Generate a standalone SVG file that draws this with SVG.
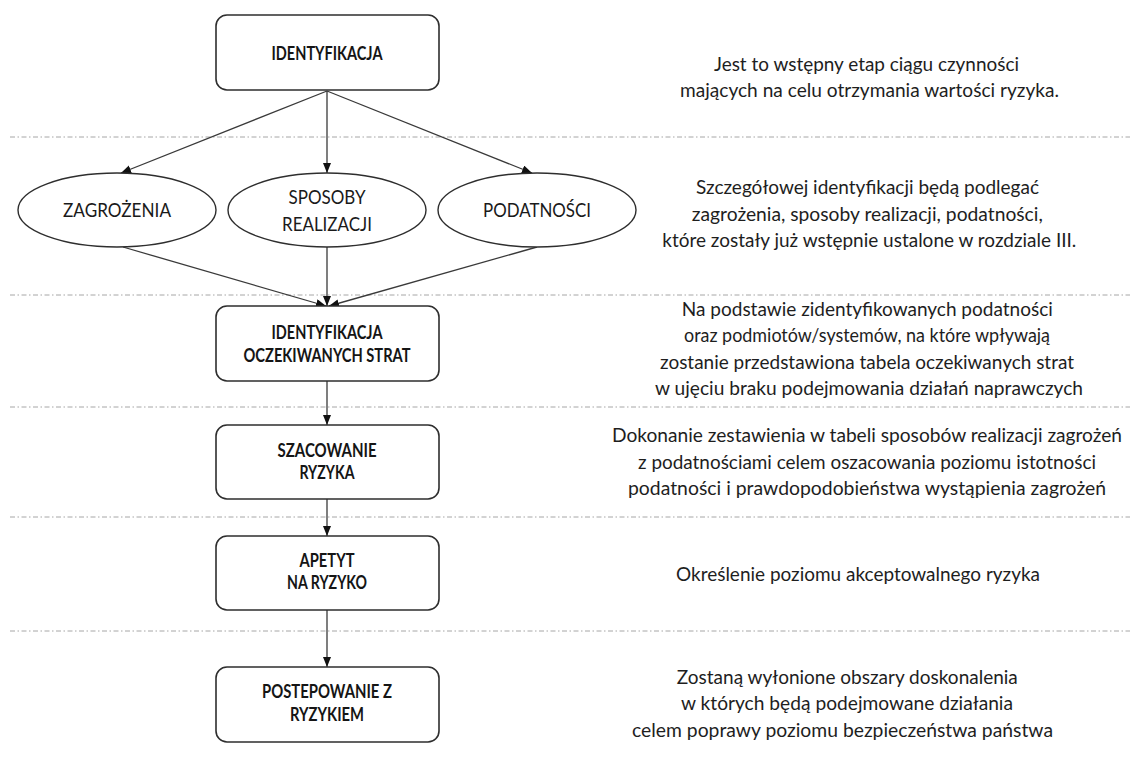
<svg xmlns="http://www.w3.org/2000/svg" width="1134" height="776" viewBox="0 0 1134 776">
  <style>
    .sep { stroke: #a6a6a6; stroke-width: 1; stroke-dasharray: 5 2.5 1.5 2.5; fill: none; }
    .box { fill: #ffffff; stroke: #2e2e2e; stroke-width: 1.6; }
    .ell { fill: #ffffff; stroke: #2e2e2e; stroke-width: 1.4; }
    .lbl { font-family: Lato, "Open Sans", "Liberation Sans", sans-serif; font-size: 19px; font-weight: 700; fill: #151515; text-anchor: middle; }
    .elbl { font-family: Lato, "Open Sans", "Liberation Sans", sans-serif; font-size: 20px; fill: #1a1a1a; text-anchor: middle; }
    .note { font-family: Lato, "Open Sans", "Liberation Sans", sans-serif; font-size: 19.5px; fill: #1e1e1e; text-anchor: middle; }
    .conn { stroke: #3a3a3a; stroke-width: 1.3; fill: none; marker-end: url(#arrow); }
  </style>
  <defs>
    <marker id="arrow" markerUnits="userSpaceOnUse" markerWidth="11" markerHeight="9" refX="10" refY="4" orient="auto">
      <path d="M0,0 L10,4 L0,8 Z" fill="#111111"/>
    </marker>
  </defs>

  <rect width="1134" height="776" fill="#ffffff"/>

  <!-- section separators -->
  <g id="separators">
    <line class="sep" x1="10" y1="137" x2="1130" y2="137"/>
    <line class="sep" x1="10" y1="295" x2="1130" y2="295"/>
    <line class="sep" x1="10" y1="407" x2="1130" y2="407"/>
    <line class="sep" x1="10" y1="517" x2="1130" y2="517"/>
    <line class="sep" x1="10" y1="631" x2="1130" y2="631"/>
  </g>

  <!-- connectors -->
  <g id="connectors">
    <line class="conn" x1="327" y1="91" x2="121" y2="173"/>
    <line class="conn" x1="327" y1="91" x2="327" y2="173"/>
    <line class="conn" x1="327" y1="91" x2="532" y2="173"/>
    <line class="conn" x1="123" y1="247" x2="326" y2="306"/>
    <line class="conn" x1="327" y1="247" x2="327" y2="306"/>
    <line class="conn" x1="537" y1="247" x2="329" y2="306"/>
    <line class="conn" x1="327" y1="381" x2="327" y2="425"/>
    <line class="conn" x1="327" y1="499" x2="327" y2="536"/>
    <line class="conn" x1="327" y1="610" x2="327" y2="667"/>
  </g>

  <!-- process steps -->
  <g id="identyfikacja">
    <rect class="box" x="216" y="15" width="223" height="75" rx="11"/>
    <text class="lbl" x="327" y="59.5" textLength="111" lengthAdjust="spacingAndGlyphs">IDENTYFIKACJA</text>
  </g>

  <g id="zagrozenia">
    <ellipse class="ell" cx="117" cy="210" rx="99" ry="37"/>
    <text class="elbl" x="117" y="217" textLength="108" lengthAdjust="spacingAndGlyphs">ZAGROŻENIA</text>
  </g>

  <g id="sposoby-realizacji">
    <ellipse class="ell" cx="327" cy="210" rx="99" ry="37"/>
    <text class="elbl" x="327" y="203.5" textLength="77" lengthAdjust="spacingAndGlyphs">SPOSOBY</text>
    <text class="elbl" x="327" y="230.7" textLength="90" lengthAdjust="spacingAndGlyphs">REALIZACJI</text>
  </g>

  <g id="podatnosci">
    <ellipse class="ell" cx="537" cy="210" rx="99" ry="37"/>
    <text class="elbl" x="537" y="217" textLength="108" lengthAdjust="spacingAndGlyphs">PODATNOŚCI</text>
  </g>

  <g id="identyfikacja-strat">
    <rect class="box" x="216" y="306" width="223" height="75" rx="11"/>
    <text class="lbl" x="327" y="339" textLength="111" lengthAdjust="spacingAndGlyphs">IDENTYFIKACJA</text>
    <text class="lbl" x="327" y="361.7" textLength="167" lengthAdjust="spacingAndGlyphs">OCZEKIWANYCH STRAT</text>
  </g>

  <g id="szacowanie-ryzyka">
    <rect class="box" x="216" y="425" width="223" height="74" rx="11"/>
    <text class="lbl" x="327" y="456.7" textLength="99" lengthAdjust="spacingAndGlyphs">SZACOWANIE</text>
    <text class="lbl" x="327" y="479.3" textLength="55" lengthAdjust="spacingAndGlyphs">RYZYKA</text>
  </g>

  <g id="apetyt-na-ryzyko">
    <rect class="box" x="216" y="536" width="223" height="74" rx="11"/>
    <text class="lbl" x="327" y="566.7" textLength="55" lengthAdjust="spacingAndGlyphs">APETYT</text>
    <text class="lbl" x="327" y="589" textLength="80" lengthAdjust="spacingAndGlyphs">NA RYZYKO</text>
  </g>

  <g id="postepowanie-z-ryzykiem">
    <rect class="box" x="216" y="667" width="223" height="75" rx="11"/>
    <text class="lbl" x="327" y="697.7" textLength="130" lengthAdjust="spacingAndGlyphs">POSTEPOWANIE Z</text>
    <text class="lbl" x="327" y="720.7" textLength="74" lengthAdjust="spacingAndGlyphs">RYZYKIEM</text>
  </g>

  <!-- descriptions of each stage -->
  <g id="descriptions">
    <text class="note" x="866.5" y="70.7" textLength="305" lengthAdjust="spacingAndGlyphs">Jest to wstępny etap ciągu czynności</text>
    <text class="note" x="869.5" y="97.3" textLength="379" lengthAdjust="spacingAndGlyphs">mających na celu otrzymania wartości ryzyka.</text>

    <text class="note" x="867.5" y="194.3" textLength="343" lengthAdjust="spacingAndGlyphs">Szczegółowej identyfikacji będą podlegać</text>
    <text class="note" x="867.3" y="221" textLength="351" lengthAdjust="spacingAndGlyphs">zagrożenia, sposoby realizacji, podatności,</text>
    <text class="note" x="869.3" y="247.3" textLength="414" lengthAdjust="spacingAndGlyphs">które zostały już wstępnie ustalone w rozdziale III.</text>

    <text class="note" x="867.3" y="316" textLength="371" lengthAdjust="spacingAndGlyphs">Na podstawie zidentyfikowanych podatności</text>
    <text class="note" x="867" y="342.3" textLength="366" lengthAdjust="spacingAndGlyphs">oraz podmiotów/systemów, na które wpływają</text>
    <text class="note" x="867" y="369" textLength="414" lengthAdjust="spacingAndGlyphs">zostanie przedstawiona tabela oczekiwanych strat</text>
    <text class="note" x="869" y="395" textLength="428" lengthAdjust="spacingAndGlyphs">w ujęciu braku podejmowania działań naprawczych</text>

    <text class="note" x="867" y="441.7" textLength="510" lengthAdjust="spacingAndGlyphs">Dokonanie zestawienia w tabeli sposobów realizacji zagrożeń</text>
    <text class="note" x="867" y="469" textLength="458" lengthAdjust="spacingAndGlyphs">z podatnościami celem oszacowania poziomu istotności</text>
    <text class="note" x="867" y="495.3" textLength="478" lengthAdjust="spacingAndGlyphs">podatności i prawdopodobieństwa wystąpienia zagrożeń</text>

    <text class="note" x="858" y="581" textLength="364" lengthAdjust="spacingAndGlyphs">Określenie poziomu akceptowalnego ryzyka</text>

    <text class="note" x="847.3" y="684.3" textLength="341" lengthAdjust="spacingAndGlyphs">Zostaną wyłonione obszary doskonalenia</text>
    <text class="note" x="847" y="710" textLength="332" lengthAdjust="spacingAndGlyphs">w których będą podejmowane działania</text>
    <text class="note" x="842.5" y="736.7" textLength="421" lengthAdjust="spacingAndGlyphs">celem poprawy poziomu bezpieczeństwa państwa</text>
  </g>
</svg>
